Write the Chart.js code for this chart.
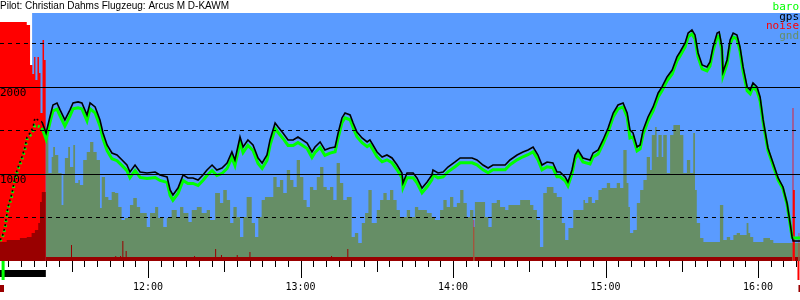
<!DOCTYPE html>
<html><head><meta charset="utf-8">
<script src="https://cdn.jsdelivr.net/npm/chart.js@4/dist/chart.umd.min.js"></script>
<style>html,body{margin:0;padding:0;background:#fff}</style>
</head><body>
<canvas id="c" width="800" height="300"></canvas>
<script>
// ---- text ----
const titleText = 'Pilot: Christian Dahms Flugzeug: Arcus M D-KAWM';
const legendNames = ['baro', 'gps', 'noise', 'gnd'];
const yLabelValues = [1000, 2000];
const solidGrid = [1000, 2000];
const dashedGrid = [500, 1500, 2500];

// ---- time axis: minutes after 11:00 ----
const xMin = 1.77, xMax = 316.5;
const yMax = 2850;
const skyStart = 14.4;
const takeoffTime = 2.4, landingTime = 315.9, motorOn = 1.77, motorOff = 19.8;

// ---- barogram (baro + gps), minutes after 11:00 / metres ----
const flightTimes = [1.8,
 2.6,3.7,4.9,6.5,7.7,8.9,10.4,11.6,12.4,13.6,
 14.8,15.5,16.7,18.3,19.9,21.4,22.6,24.2,25.4,27.3,
 29.3,30.5,32.5,34.0,36.0,37.2,39.2,41.1,42.3,43.9,
 45.8,47.8,49.8,51.7,52.9,54.9,56.9,59.6,62.8,64.7,
 67.5,68.7,69.8,71.8,73.8,75.7,77.7,79.7,81.6,83.2,
 85.2,87.1,89.1,91.1,93.0,94.2,96.2,97.4,99.3,101.3,
 103.3,104.9,106.8,108.0,110.0,111.2,113.1,115.1,117.1,119.0,
 122.6,124.5,125.7,127.7,129.6,131.6,133.6,134.8,136.3,137.5,
 139.5,140.7,142.2,144.2,146.2,147.3,148.5,150.1,152.1,154.0,
 156.0,158.0,159.9,160.3,161.9,164.3,165.8,167.8,169.8,171.7,
 172.1,174.1,176.1,178.0,180.8,182.8,185.5,187.5,189.4,191.8,
 193.8,195.7,197.7,200.5,202.4,205.2,207.5,209.5,211.5,213.4,
 215.0,217.0,219.3,220.9,222.1,224.1,225.2,226.8,228.0,229.2,
 231.1,233.9,235.1,237.1,239.0,241.0,243.0,244.9,246.9,248.5,
 249.6,250.8,252.4,253.6,254.8,256.7,258.7,260.7,262.2,264.2,
 266.2,268.1,269.3,271.3,272.5,274.0,275.2,276.4,278.0,279.9,
 281.1,282.3,283.9,284.7,285.8,286.2,287.8,289.0,290.2,291.7,
 292.9,294.1,295.7,296.9,298.0,299.6,300.8,302.0,303.9,305.9,
 307.9,309.8,311.4,312.6,313.4,313.8,316.5];
const gps = [241,
 276,391,621,782,966,1080,1195,1310,1425,1471,
 1540,1644,1621,1598,1471,1655,1793,1816,1736,1621,
 1736,1816,1828,1816,1678,1816,1770,1621,1471,1333,
 1241,1218,1161,1103,1023,1103,1023,1011,1023,989,
 966,816,759,839,989,954,954,931,989,1046,
 1103,1046,1069,1126,1253,1161,1425,1310,1391,1333,
 1184,1126,1218,1391,1586,1540,1471,1391,1391,1425,
 1356,1253,1310,1368,1276,1299,1310,1471,1644,1701,
 1678,1586,1483,1414,1368,1391,1333,1253,1195,1218,
 1184,1103,1011,897,1011,1011,954,839,908,989,
 1046,1011,1023,1080,1138,1184,1184,1184,1161,1103,
 1069,1103,1103,1103,1161,1218,1253,1276,1310,1218,
 1103,1138,1126,1023,1023,966,908,1046,1218,1276,
 1184,1161,1241,1276,1391,1529,1701,1793,1816,1701,
 1506,1471,1310,1333,1506,1655,1770,1931,2000,2115,
 2195,2345,2402,2506,2620,2655,2598,2391,2253,2230,
 2287,2460,2620,2632,2460,2172,2310,2540,2620,2598,
 2460,2230,2000,1965,2046,2000,1885,1621,1299,1126,
 954,851,667,437,276,230,230];
const baro = [230,
 262,372,600,760,945,1060,1172,1290,1400,1440,
 1500,1560,1550,1530,1400,1590,1725,1745,1668,1550,
 1668,1748,1760,1748,1610,1748,1702,1553,1405,1268,
 1176,1153,1096,1038,958,1040,960,948,960,926,
 903,753,697,776,926,891,891,868,926,983,
 1040,983,1006,1063,1190,1098,1362,1247,1328,1270,
 1121,1063,1155,1328,1523,1477,1408,1328,1328,1362,
 1293,1190,1247,1305,1213,1240,1255,1416,1589,1646,
 1623,1531,1428,1359,1313,1336,1278,1198,1140,1163,
 1129,1048,956,842,956,956,899,784,853,934,
 991,956,968,1025,1083,1129,1129,1129,1106,1048,
 1014,1048,1048,1048,1106,1163,1198,1221,1255,1163,
 1048,1083,1071,968,968,921,863,1001,1173,1231,
 1139,1116,1196,1231,1346,1484,1656,1748,1771,1656,
 1414,1426,1265,1288,1461,1610,1725,1886,1955,2070,
 2150,2300,2357,2461,2575,2610,2553,2346,2208,2185,
 2242,2415,2575,2587,2415,2127,2265,2495,2575,2553,
 2415,2185,1955,1920,2001,1955,1840,1590,1270,1100,
 930,830,650,425,270,264,264];

// ---- ground elevation under the track (step values) ----
const gndTimes = [19.8,20.8,22.1,22.7,23.4,24.7,26.0,26.7,27.3,28.6,29.3,30.6,31.3,32.6,33.2,34.5,35.9,37.2,38.5,39.8,
 41.1,41.8,43.1,44.4,45.7,47.0,48.3,49.6,50.9,52.9,54.2,55.6,56.9,59.5,60.8,62.8,64.0,66.0,67.4,69.3,
 71.3,72.6,73.9,75.9,77.2,79.2,81.1,83.1,84.4,86.4,88.3,89.6,91.0,92.3,93.6,94.9,96.2,97.5,98.8,100.8,
 102.1,103.4,104.7,106.0,109.3,110.6,111.9,113.2,114.6,115.9,117.2,118.5,119.8,121.1,122.4,123.7,125.0,126.4,127.7,129.0,
 130.3,131.6,132.9,134.2,135.5,136.8,138.2,140.1,141.4,142.7,144.1,145.4,146.7,148.0,150.0,151.3,152.6,153.9,155.2,156.5,
 157.8,159.1,161.8,163.1,165.0,166.3,169.7,171.6,172.9,174.9,176.2,177.5,178.8,180.1,181.5,182.8,184.1,185.4,186.7,188.0,
 188.6,192.6,193.9,195.2,197.2,198.5,200.5,201.8,206.4,210.3,211.6,213.0,214.2,215.5,216.9,219.5,220.8,222.8,224.1,225.4,
 227.3,231.3,231.9,233.2,234.6,235.9,237.2,238.5,240.5,241.8,244.4,245.7,247.0,248.3,249.0,249.6,250.9,252.3,253.6,254.9,
 256.2,257.5,258.2,259.5,260.1,260.8,262.1,262.7,264.1,265.4,266.7,269.3,270.6,272.0,273.3,274.5,275.2,275.9,277.2,278.5,
 285.0,286.3,287.7,289.0,290.3,291.6,292.9,295.5,296.2,296.9,298.1,302.1,304.7,306.0,316.5];
const gnd = [1448,1011,1195,1310,1218,1011,644,989,1184,1310,1080,1333,897,931,874,1161,1253,1368,1253,1161,
 609,966,736,701,793,782,621,471,494,644,724,621,552,391,552,621,494,391,494,586,
 494,621,552,448,586,621,552,586,471,782,667,816,701,437,621,506,276,506,736,437,
 276,506,701,736,966,851,931,782,1046,931,851,1161,966,701,621,851,816,966,1080,851,
 816,851,701,1126,897,701,736,276,322,207,437,552,816,437,586,701,782,701,816,701,
 586,506,586,506,621,586,552,506,471,586,701,621,736,621,667,816,667,506,586,391,
 678,506,391,667,701,621,586,644,701,644,586,471,161,782,851,782,736,437,241,379,
 586,701,667,736,667,701,816,839,897,839,897,839,1276,897,621,322,356,667,816,931,
 1195,1046,1448,1540,1195,1448,1195,1448,1011,1448,1563,1448,1011,1161,1011,1471,816,437,264,218,
 644,241,276,241,299,322,299,437,322,276,218,264,241,207,207];
// ground while the motor runs (drawn dark red)
const motorGndTimes = [1.77,4.4,9.6,12.3,14.2,15.5,16.8,17.5,18.2,19.8];
const motorGnd = [218,241,264,276,322,356,437,678,793,793];

// ---- noise (ENL), step values on the altitude scale ----
const noiseTimes = [1.77,12.3,13.6,14.5,15.2,15.7,16.5,17.1,17.7,18.5,19.1,19.8,
 29.7,30.1,47.1,47.5,49.0,49.4,49.9,50.3,51.2,51.6,78.1,78.5,86.4,86.8,88.7,89.1,94.9,95.3,
 99.9,100.3,132.0,132.4,138.4,138.8,188.0,188.4,313.5,313.9,314.5,315.9,316.3,316.5];
const noise = [2747,2713,2253,2150,2345,2080,2345,2160,1700,2540,2310,46,
 184,46,58,46,58,46,230,46,115,46,58,46,138,46,70,46,70,46,
 103,46,58,46,138,46,471,46,1759,816,46,322,46,46];

// ---- colours ----
const SKY = '#5a9bff', GND = '#668e66', RED = '#ff0000', MAROON = '#990000', GREEN = '#00ff00';
const MONO = 'DejaVu Sans Mono';

const pts = (ts, vs) => ts.map((t, i) => ({x: t, y: vs[i]}));
const climbDash = { borderDash: c => (c.p1.parsed.x <= motorOff ? [2, 3] : undefined) };

const deco = {
  id: 'deco',
  beforeDatasetsDraw(chart) {
    const {ctx, chartArea: a, scales: {x}} = chart;
    const x0 = x.getPixelForValue(skyStart);
    ctx.save();
    ctx.fillStyle = SKY;
    ctx.fillRect(x0, a.top, a.right - x0, a.bottom - a.top);
    ctx.restore();
  },
  afterDatasetsDraw(chart) {
    const {ctx, chartArea: a, scales: {y}} = chart;
    ctx.save();
    ctx.strokeStyle = '#000'; ctx.lineWidth = 1;
    const hline = v => { const py = Math.round(y.getPixelForValue(v)) + 0.5; ctx.beginPath(); ctx.moveTo(a.left, py); ctx.lineTo(a.right, py); ctx.stroke(); };
    ctx.setLineDash([]); solidGrid.forEach(hline);
    ctx.setLineDash([4, 4]); dashedGrid.forEach(hline);
    ctx.restore();
  },
  afterDraw(chart) {
    const {ctx, chartArea: a, scales: {x, y}} = chart;
    ctx.save();
    // tick marks every 5 minutes
    ctx.strokeStyle = '#000'; ctx.lineWidth = 1;
    ctx.beginPath();
    x.ticks.forEach(t => {
      const v = t.value, m = Math.round(v);
      if (Math.abs(v - m) > 1e-6 || m % 5 !== 0) return;
      const len = m % 60 === 0 ? 17 : (m % 30 === 0 ? 11 : 6);
      const px = Math.round(x.getPixelForValue(v)) + 0.5;
      ctx.moveTo(px, a.bottom); ctx.lineTo(px, a.bottom + len);
    });
    ctx.stroke();
    // flight markers below the axis
    const pOn = x.getPixelForValue(motorOn), pOff = x.getPixelForValue(motorOff);
    const pTo = x.getPixelForValue(takeoffTime), pLd = x.getPixelForValue(landingTime);
    ctx.fillStyle = '#000'; ctx.fillRect(pOn, a.bottom + 9, pOff - pOn, 7);
    ctx.fillStyle = GREEN; ctx.fillRect(pTo, a.bottom, 3, 19);
    ctx.fillStyle = RED; ctx.fillRect(pLd - 1, a.bottom, 2, 19);
    ctx.fillStyle = MAROON; ctx.fillRect(pOn, a.bottom + 24, 4, 7); ctx.fillRect(pLd, a.bottom + 24, 2, 7);
    // altitude labels inside the plot
    ctx.font = '11px "' + MONO + '"';
    ctx.fillStyle = '#000'; ctx.textAlign = 'left'; ctx.textBaseline = 'middle';
    yLabelValues.forEach(v => ctx.fillText(String(v), a.left, y.getPixelForValue(v) + 6));
    // legend text
    const cols = [GREEN, '#000', RED, GND];
    ctx.textAlign = 'right'; ctx.textBaseline = 'alphabetic';
    legendNames.forEach((n, i) => { ctx.fillStyle = cols[i]; ctx.fillText(n, a.right - 1, 10 + i * 9.7); });
    ctx.restore();
  }
};

new Chart(document.getElementById('c'), {
  type: 'line',
  data: {
    datasets: [
      { label: 'gps', data: pts(flightTimes, gps), borderColor: '#000', borderWidth: 1.6, pointRadius: 0, tension: 0, fill: false, order: 0, segment: climbDash },
      { label: 'baro', data: pts(flightTimes, baro), borderColor: GREEN, borderWidth: 3, pointRadius: 0, tension: 0, fill: false, order: 1, segment: climbDash },
      { label: 'gnd motor', data: pts(motorGndTimes, motorGnd), stepped: true, fill: 'origin', backgroundColor: MAROON, borderColor: 'rgba(0,0,0,0)', borderWidth: 0, pointRadius: 0, order: 2 },
      { label: 'noise', data: pts(noiseTimes, noise), stepped: true, fill: 'origin', backgroundColor: RED, borderColor: 'rgba(0,0,0,0)', borderWidth: 0, pointRadius: 0, order: 3,
        segment: { backgroundColor: c => (c.p0.parsed.y > 300 ? RED : MAROON) } },
      { label: 'gnd', data: pts(gndTimes, gnd), stepped: true, fill: 'origin', backgroundColor: GND, borderColor: 'rgba(0,0,0,0)', borderWidth: 0, pointRadius: 0, order: 4 }
    ]
  },
  options: {
    responsive: false, animation: false, devicePixelRatio: 1,
    layout: { padding: 0, autoPadding: false },
    plugins: {
      legend: { display: false }, tooltip: { enabled: false },
      title: { display: true, text: titleText, align: 'start', color: '#000',
        font: { family: 'Liberation Sans', size: 10, weight: 'normal', lineHeight: '13px' }, padding: { top: 0, bottom: 0 } }
    },
    scales: {
      x: {
        type: 'linear', min: xMin, max: xMax, position: 'bottom',
        grid: { display: false, drawTicks: true, tickLength: 20 }, border: { display: false },
        ticks: { stepSize: 5, autoSkip: false, includeBounds: false, maxRotation: 0, padding: 0, color: '#000',
          font: { family: MONO, size: 10 },
          callback: v => { const m = Math.round(v); return (Math.abs(v - m) < 1e-6 && m % 60 === 0) ? (11 + m / 60) + ':00' : ''; } },
        afterFit: s => { s.height = 39; s.paddingLeft = 0; s.paddingRight = 0; }
      },
      y: {
        type: 'linear', min: 0, max: yMax, position: 'left', display: false
      }
    }
  },
  plugins: [deco]
});
</script>
</body></html>
